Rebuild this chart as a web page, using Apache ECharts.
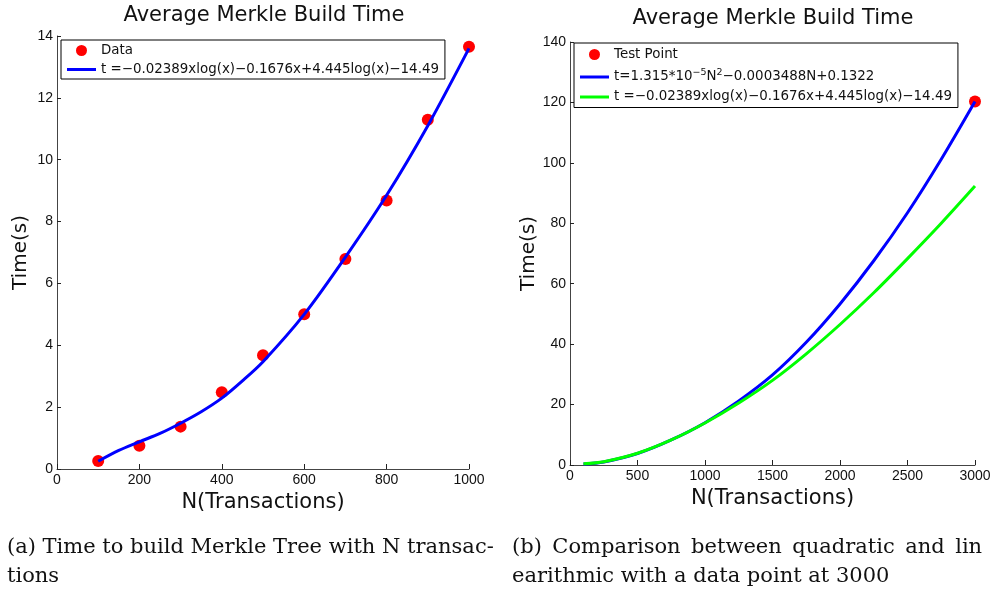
<!DOCTYPE html>
<html>
<head>
<meta charset="utf-8">
<script src="https://cdn.jsdelivr.net/npm/echarts@6/dist/echarts.min.js"></script>
<style>
  html, body { margin: 0; padding: 0; background: #fff; }
  #main { width: 997px; height: 596px; }
</style>
</head>
<body>
<div id="main"></div>
<script>
// 左图：测量点
var dataN = [100, 200, 300, 400, 500, 600, 700, 800, 900, 1000];
var dataT = [0.26, 0.75, 1.37, 2.48, 3.68, 5.0, 6.79, 8.68, 11.29, 13.65];
// 左图：拟合曲线
var fitN = [100, 150, 200, 250, 300, 350, 400, 450, 500, 600, 700, 800, 900, 1000];
var fitT = [0.25, 0.6, 0.88, 1.15, 1.48, 1.85, 2.29, 2.85, 3.47, 5.0, 6.85, 8.85, 11.1, 13.6];

// 右图：测试点与两条曲线
var testN = [3000];
var testT = [120.3];
var cmpN = [100, 250, 500, 750, 1000, 1250, 1500, 1750, 2000, 2250, 2500, 2750, 3000];
var quadT = [0.3, 1.0, 3.8, 8.3, 14.0, 21.2, 29.8, 40.6, 53.3, 67.6, 83.5, 101.2, 120.3];
var nlogT = [0.4, 1.1, 3.9, 8.3, 13.9, 20.5, 28.0, 36.8, 46.5, 57.0, 68.3, 80.0, 92.3];

var titleText = "Average Merkle Build Time";
var legendData = "Data";
var legendFit = "t =\u22120.02389xlog(x)\u22120.1676x+4.445log(x)\u221214.49";
var legendTest = "Test Point";
var legendQuad = "quad";
var captionA = ["(a) Time to build Merkle Tree with N transac-", "tions"];
var captionB = ["(b)\u2002Comparison\u2002between\u2002quadratic\u2002and\u2002lin", "earithmic with a data point at 3000"];

function zip(xs, ys) {
  return xs.map(function (x, i) { return [x, ys[i]]; });
}

var sans = "Liberation Sans";
var geo = "DejaVu Sans";
var axisColor = "#444";
var lineIcon = "path://M0,0 L29,0 L29,3 L0,3 Z";

function makeX(idx, max, interval) {
  return {
    type: "value", gridIndex: idx, min: 0, max: max, interval: interval,
    name: "N(Transactions)", nameLocation: "middle", nameGap: 17,
    nameTextStyle: { fontFamily: geo, fontSize: 21, color: "#111", verticalAlign: "top" },
    axisLine: { show: true, lineStyle: { color: axisColor, width: 1 } },
    axisTick: { show: true, inside: true, length: 5, lineStyle: { color: "#222" } },
    axisLabel: { fontFamily: sans, fontSize: 14, color: "#111", margin: 4,
      formatter: function (v) { return String(v); } },
    splitLine: { show: false }
  };
}
function makeY(idx, max, interval) {
  return {
    type: "value", gridIndex: idx, min: 0, max: max, interval: interval,
    name: "Time(s)", nameLocation: "middle", nameGap: 26, nameRotate: 90,
    nameTextStyle: { fontFamily: geo, fontSize: 20, color: "#111" },
    axisLine: { show: true, lineStyle: { color: axisColor, width: 1 } },
    axisTick: { show: true, inside: true, length: 4, lineStyle: { color: "#222" } },
    axisLabel: { fontFamily: sans, fontSize: 14, color: "#111", margin: 4,
      formatter: function (v) { return String(v); } },
    splitLine: { show: false }
  };
}

var chart = echarts.init(document.getElementById("main"), null, { renderer: "canvas" });

var legendBase = {
  orient: "vertical", padding: [4, 6, 3, 6], itemGap: 6, itemWidth: 29, itemHeight: 11,
  borderColor: "#000", borderWidth: 1, backgroundColor: "#fff",
  symbolKeepAspect: true
};

var option = {
  backgroundColor: "#fff",
  animation: false,
  grid: [
    { left: 57, top: 36, width: 412, height: 433 },
    { left: 570, top: 42, width: 405, height: 423 }
  ],
  xAxis: [makeX(0, 1000, 200), makeX(1, 3000, 500)],
  yAxis: [makeY(0, 14, 2), makeY(1, 140, 20)],
  legend: [
    Object.assign({}, legendBase, {
      left: 61, top: 40,
      textStyle: { fontFamily: geo, fontSize: 13.4, color: "#111" },
      data: [
        { name: legendData, icon: "circle" },
        { name: legendFit, icon: lineIcon }
      ]
    }),
    Object.assign({}, legendBase, {
      left: 574, top: 43, itemGap: 7, padding: [5, 6, 4, 6],
      textStyle: {
        fontFamily: geo, fontSize: 13.4, color: "#111",
        rich: { sup: { fontFamily: geo, fontSize: 9.5, verticalAlign: "top", padding: [0, 0, 8, 0] } }
      },
      formatter: function (name) {
        if (name === legendQuad) {
          return "t=1.315*10{sup|\u22125}N{sup|2}\u22120.0003488N+0.1322";
        }
        if (name === legendFit + " ") return legendFit;
        return name;
      },
      data: [
        { name: legendTest, icon: "circle" },
        { name: legendQuad, icon: lineIcon },
        { name: legendFit + " ", icon: lineIcon }
      ]
    })
  ],
  graphic: [
    { type: "text", x: 264, y: 16, style: { text: titleText, font: "21px DejaVu Sans", fill: "#111", align: "center", verticalAlign: "middle" } },
    { type: "text", x: 773, y: 19, style: { text: titleText, font: "21px DejaVu Sans", fill: "#111", align: "center", verticalAlign: "middle" } },
    { type: "text", x: 7, y: 548, style: { text: captionA[0], font: "21px DejaVu Serif", fill: "#111", verticalAlign: "middle" } },
    { type: "text", x: 7, y: 577, style: { text: captionA[1], font: "21px DejaVu Serif", fill: "#111", verticalAlign: "middle" } },
    { type: "text", x: 512, y: 548, style: { text: captionB[0], font: "21px DejaVu Serif", fill: "#111", verticalAlign: "middle" } },
    { type: "text", x: 512, y: 577, style: { text: captionB[1], font: "21px DejaVu Serif", fill: "#111", verticalAlign: "middle" } }
  ],
  series: [
    {
      name: legendData, type: "scatter", xAxisIndex: 0, yAxisIndex: 0,
      symbol: "circle", symbolSize: 12, itemStyle: { color: "#ff0000", opacity: 1 },
      data: zip(dataN, dataT), z: 3
    },
    {
      name: legendFit, type: "line", xAxisIndex: 0, yAxisIndex: 0,
      symbol: "none", smooth: 0.3,
      lineStyle: { color: "#0000ff", width: 3 }, itemStyle: { color: "#0000ff" },
      data: zip(fitN, fitT), z: 4
    },
    {
      name: legendTest, type: "scatter", xAxisIndex: 1, yAxisIndex: 1,
      symbol: "circle", symbolSize: 12, itemStyle: { color: "#ff0000", opacity: 1 },
      data: zip(testN, testT), z: 3, clip: false
    },
    {
      name: legendQuad, type: "line", xAxisIndex: 1, yAxisIndex: 1,
      symbol: "none", smooth: 0.3,
      lineStyle: { color: "#0000ff", width: 3 }, itemStyle: { color: "#0000ff" },
      data: zip(cmpN, quadT), z: 4
    },
    {
      name: legendFit + " ", type: "line", xAxisIndex: 1, yAxisIndex: 1,
      symbol: "none", smooth: 0.3,
      lineStyle: { color: "#00ff00", width: 3 }, itemStyle: { color: "#00ff00" },
      data: zip(cmpN, nlogT), z: 5
    }
  ]
};

chart.setOption(option);
</script>
</body>
</html>
